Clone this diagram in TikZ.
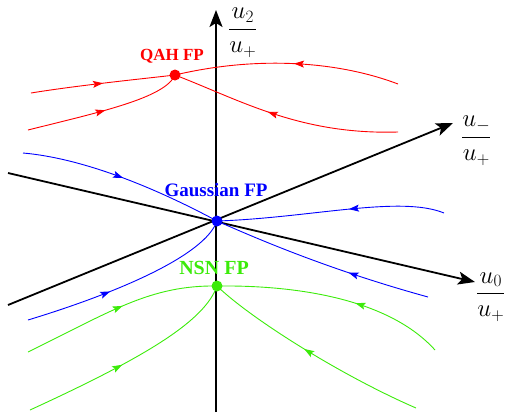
\documentclass[tikz,border=0pt]{standalone}
\usepackage{fontspec}
\setmainfont{Liberation Serif}
\usetikzlibrary{arrows.meta,decorations.markings}
\definecolor{nsngreen}{RGB}{60,235,10}
\tikzset{
  axisline/.style={line width=1.8pt,-{Stealth[length=17pt,width=13pt,inset=4pt]}},
  flowline/.style={line width=0.9pt},
  flowarrow/.style={postaction={decorate},decoration={markings,mark=at position #1 with {\arrow{Stealth[length=10pt,width=7pt,inset=2pt]}}}},
  fpdot/.style={circle,fill,inner sep=0pt,minimum size=11pt},
  fplabel/.style={font=\fontsize{17}{20}\selectfont\bfseries},
  axlabel/.style={font=\fontsize{24}{28}\selectfont,inner sep=0pt}
}
\begin{document}
\begin{tikzpicture}[x=1pt,y=-1pt]
\useasboundingbox (0,0) rectangle (505,418);
% axes
\coordinate (zb) at (216,412);
\coordinate (zt) at (216,10);
\coordinate (ul) at (8,173);
\coordinate (ur) at (475,282);
\coordinate (ml) at (8,305);
\coordinate (mr) at (453,123);
\draw[axisline] (zb) -- (zt);
\draw[axisline] (ul) -- (ur);
\draw[axisline] (ml) -- (mr);
\node[axlabel,anchor=west] (lz) at (228,33) {$\displaystyle\frac{u_2}{u_+}$};
\node[axlabel,anchor=west] (lm) at (461,141) {$\displaystyle\frac{u_-}{u_+}$};
\node[axlabel,anchor=west] (lo) at (476,297) {$\displaystyle\frac{u_0}{u_+}$};
% fixed points
\coordinate (qahc) at (175,75);
\coordinate (gc) at (217,221);
\coordinate (nc) at (217,286);
% red flows
\begin{scope}[red,flowline]
\draw[flowarrow=0.5] (31,93) .. controls (80,85) and (150,78) .. (qahc);
\draw[flowarrow=0.47] (398,84) .. controls (340,62) and (260,55) .. (qahc);
\draw[flowarrow=0.5] (28,130) .. controls (100,112) and (165,98) .. (qahc);
\draw[flowarrow=0.57] (398,132) .. controls (300,135) and (240,100) .. (qahc);
\end{scope}
% blue flows
\begin{scope}[blue,flowline]
\draw[flowarrow=0.5] (23,153) .. controls (80,158) and (150,185) .. (gc);
\draw[flowarrow=0.42] (444,213) .. controls (400,195) and (310,218) .. (gc);
\draw[flowarrow=0.4] (28,320) .. controls (120,292) and (205,255) .. (gc);
\draw[flowarrow=0.37] (428,297) .. controls (330,270) and (260,240) .. (gc);
\end{scope}
% green flows
\begin{scope}[nsngreen,flowline]
\draw[flowarrow=0.52] (28,352) .. controls (110,312) and (150,285) .. (nc);
\draw[flowarrow=0.4] (435,350) .. controls (390,300) and (300,285) .. (nc);
\draw[flowarrow=0.45] (30,410) .. controls (150,355) and (205,320) .. (nc);
\draw[flowarrow=0.54] (416,408) .. controls (340,375) and (250,318) .. (nc);
\end{scope}
% dots and labels
\node[fpdot,red] (qah) at (qahc) {};
\node[fpdot,blue] (gauss) at (gc) {};
\node[fpdot,nsngreen] (nsn) at (nc) {};
\node[fplabel,red] (qahl) at (172,56) {QAH FP};
\node[fplabel,blue,font=\fontsize{19}{22}\selectfont\bfseries] (gaussl) at (216,190) {Gaussian FP};
\node[fplabel,nsngreen,font=\fontsize{20}{23}\selectfont\bfseries] (nsnl) at (214,268) {NSN FP};
\end{tikzpicture}
\end{document}
